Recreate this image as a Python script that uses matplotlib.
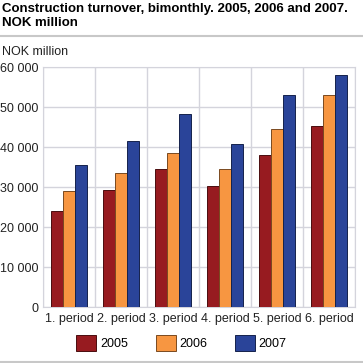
import matplotlib.pyplot as plt
import numpy as np
from matplotlib.lines import Line2D

plt.rcParams["font.family"] = ["Liberation Sans", "DejaVu Sans"]

# Bimonthly construction turnover, NOK million
periods = ["1. period", "2. period", "3. period", "4. period", "5. period", "6. period"]
years = ["2005", "2006", "2007"]
turnover_2005 = [24000, 29250, 34600, 30200, 37900, 45250]
turnover_2006 = [28900, 33600, 38400, 34400, 44400, 52900]
turnover_2007 = [35400, 41500, 48200, 40700, 52900, 58000]

series = [turnover_2005, turnover_2006, turnover_2007]
colors = ["#971b20", "#f79641", "#2a4499"]
edges = ["#4a0d0f", "#7a4a20", "#15224c"]

fig = plt.figure(figsize=(3.63, 3.63), dpi=100)
ax = fig.add_axes([43 / 363, 56 / 363, 312 / 363, 240 / 363])

x = np.arange(len(periods))
w = 0.23
for i, (vals, c, e) in enumerate(zip(series, colors, edges)):
    ax.bar(x + (i - 1) * w, vals, w, color=c, edgecolor=e, linewidth=0.7,
           label=years[i], zorder=3)

ax.set_xlim(-0.5, len(periods) - 0.5)
ax.set_ylim(0, 60000)
ax.set_yticks(range(0, 60001, 10000))
ax.set_yticklabels([f"{v:,}".replace(",", " ") for v in range(0, 60001, 10000)])
ax.set_xticks(x)
ax.set_xticklabels(periods)
ax.set_xticks(np.arange(-0.5, len(periods)), minor=True)
ax.tick_params(which="both", length=0, labelsize=9, colors="#222222")
ax.tick_params(axis="x", pad=4)
ax.tick_params(axis="y", pad=3)
ax.grid(axis="y", which="major", color="#d4d4dc", linewidth=1, zorder=0)
ax.grid(axis="x", which="minor", color="#d4d4dc", linewidth=1, zorder=0)
for s in ax.spines.values():
    s.set_color("#d4d4dc")

fig.text(2 / 363, 1 - 3 / 363, "Construction turnover, bimonthly. 2005, 2006 and 2007.\nNOK million",
         fontsize=9.5, fontweight="bold", va="top", ha="left", linespacing=1.25)
fig.text(2 / 363, 1 - 52 / 363, "NOK million", fontsize=9, va="center", ha="left", color="#222222")

fig.add_artist(Line2D([0, 1], [1 - 36 / 363, 1 - 36 / 363], color="#c8c8c8", linewidth=1.5))
fig.add_artist(Line2D([0, 1], [1.5 / 363, 1.5 / 363], color="#c8c8c8", linewidth=1.5))

fig.legend(loc="center", bbox_to_anchor=(0.5, 1 - 343 / 363), ncol=3, frameon=False,
           fontsize=9, handlelength=1.6, handleheight=1.6, handletextpad=0.3,
           columnspacing=2.2)

plt.savefig("out.png", dpi=100)
